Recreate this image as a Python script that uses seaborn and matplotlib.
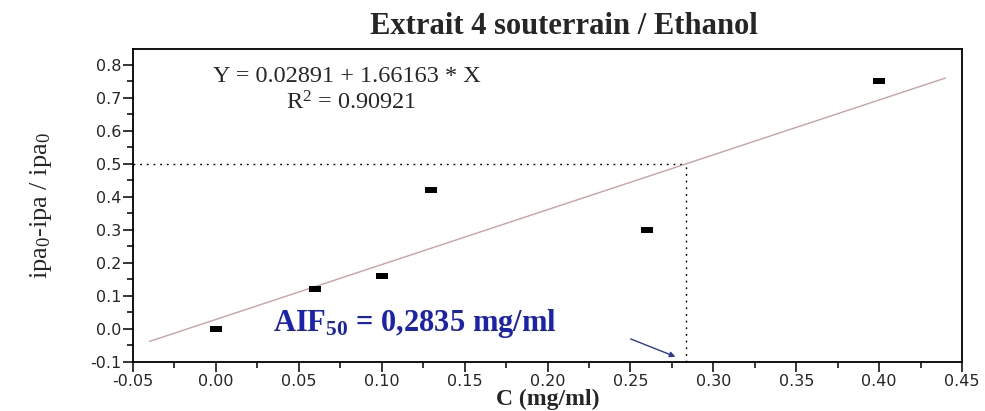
import matplotlib
matplotlib.use("Agg")
import matplotlib.pyplot as plt
import seaborn as sns
import numpy as np
import pandas as pd
from matplotlib.ticker import MultipleLocator, FormatStrFormatter

# Data
conc = [0.00, 0.06, 0.10, 0.13, 0.26, 0.40]
ratio = [0.00, 0.12, 0.16, 0.42, 0.30, 0.75]
intercept = 0.02891
slope = 1.66163
aif50 = 0.2835
fit_range = [-0.04, 0.44]

sns.set_theme(style="ticks")
plt.rcParams['font.family'] = ['DejaVu Sans']
plt.rcParams['mathtext.fontset'] = 'custom'
plt.rcParams['mathtext.rm'] = 'Liberation Serif'
plt.rcParams['mathtext.it'] = 'Liberation Serif:italic'
plt.rcParams['mathtext.bf'] = 'Liberation Serif:bold'

W, H = 985, 411
fig = plt.figure(figsize=(W/100, H/100), dpi=100)
L, R, T, B = 133, 962, 49, 362
ax = fig.add_axes([L/W, 1 - B/H, (R-L)/W, (B-T)/H])

df = pd.DataFrame({"C": conc, "R": ratio})
rect = [(-1.7, -0.8), (1.7, -0.8), (1.7, 0.8), (-1.7, 0.8), (-1.7, -0.8)]
sns.scatterplot(data=df, x="C", y="R", marker=rect, s=80, color="black",
                edgecolor="black", linewidth=0, ax=ax, zorder=3)

fx = np.array(fit_range)
ax.plot(fx, intercept + slope * fx, color="#c9a2a2", lw=1.0, zorder=2)

ax.plot([-0.05, aif50], [0.5, 0.5], color="black", lw=1.0, ls=(0, (1.3, 3.5)), zorder=1)
ax.plot([aif50, aif50], [-0.1, 0.5], color="black", lw=1.0, ls=(0, (1.3, 3.5)), zorder=1)

ax.set_xlim(-0.05, 0.45)
ax.set_ylim(-0.1, 0.848)
ax.xaxis.set_major_locator(MultipleLocator(0.05))
ax.xaxis.set_minor_locator(MultipleLocator(0.025))
ax.yaxis.set_major_locator(MultipleLocator(0.1))
ax.yaxis.set_minor_locator(MultipleLocator(0.05))
ax.xaxis.set_major_formatter(FormatStrFormatter('%.2f'))
ax.yaxis.set_major_formatter(FormatStrFormatter('%.1f'))
ax.tick_params(which='major', direction='out', length=7, width=1.1, labelsize=11.5,
               color='black', pad=1.5)
ax.tick_params(which='minor', direction='out', length=4, width=1.1, color='black')
for s in ax.spines.values():
    s.set_color('black')
    s.set_linewidth(1.3)

serif = ['Liberation Serif', 'DejaVu Serif']
ax.set_title("Extrait 4 souterrain / Ethanol", family=serif, fontweight='bold',
             fontsize=22, x=0.52, pad=11)
ax.set_xlabel("C (mg/ml)", family=serif, fontweight='bold', fontsize=17, labelpad=0)
ax.set_ylabel(r"ipa$_0$-ipa / ipa$_0$", family=serif, fontsize=19)
ax.yaxis.set_label_coords(-0.095, 0.5)

ax.text(-0.002, 0.765, "Y = 0.02891 + 1.66163 * X", family=serif, fontsize=17.5,
        va='center', ha='left')
ax.text(0.042, 0.686, r"R$^2$ = 0.90921", family=serif, fontsize=17.5,
        va='center', ha='left')

ax.text(0.0344, -0.006, r"AIF$_{\mathbf{50}}$ = 0,2835 mg/ml", family=serif,
        fontweight='bold', fontsize=22, color='#1a22b0', va='baseline', ha='left')
ax.annotate("", xy=(0.2787, -0.087), xytext=(0.2486, -0.027),
            arrowprops=dict(arrowstyle='-|>', color='#2a3a9a', lw=1.0,
                            mutation_scale=8))

fig.savefig("out.png", dpi=100)
